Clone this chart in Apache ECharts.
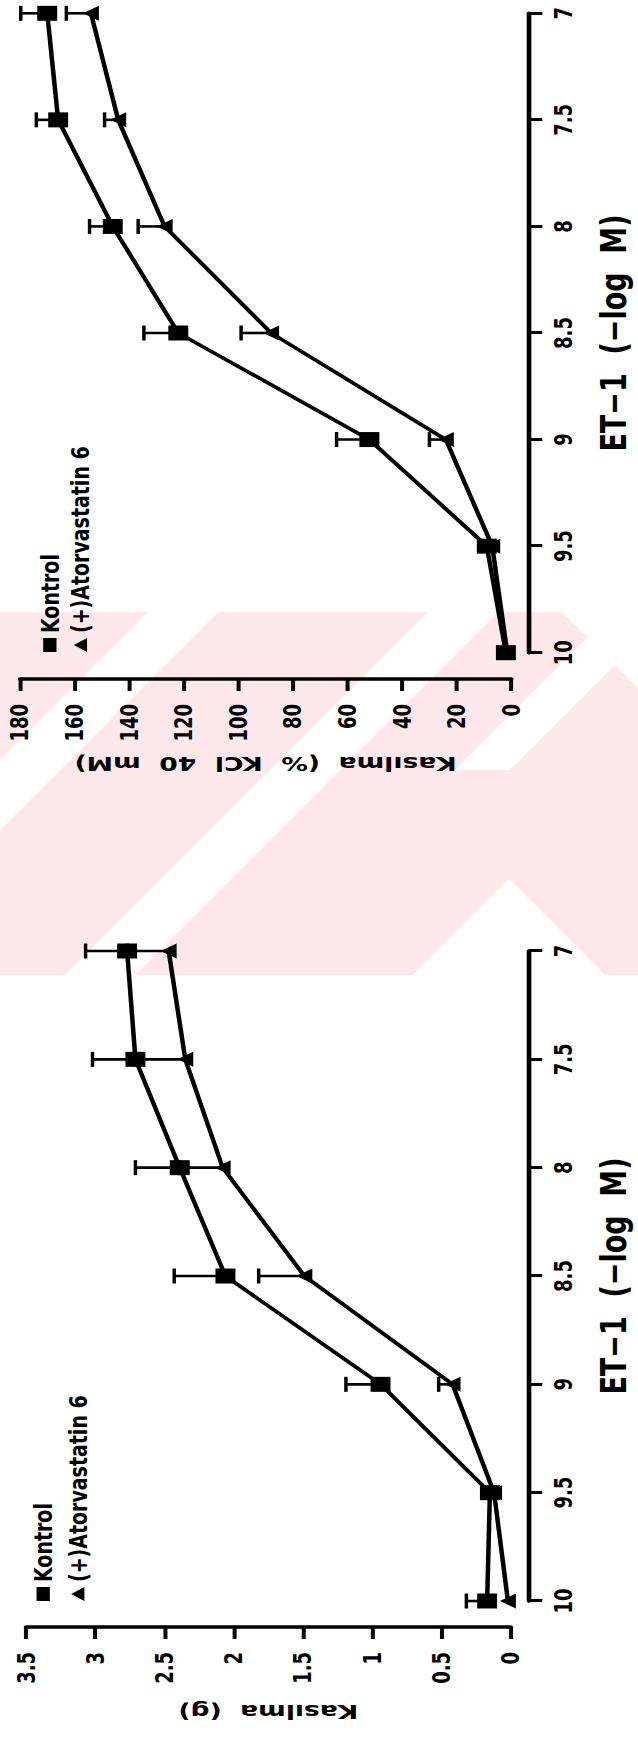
<!DOCTYPE html>
<html>
<head>
<meta charset="utf-8">
<script src="https://cdn.jsdelivr.net/npm/echarts@6/dist/echarts.min.js"></script>
<style>
html,body{margin:0;padding:0;background:#fff;overflow:hidden;}
body{width:638px;height:1739px;position:relative;}
#c{position:absolute;left:0;top:0;width:1739px;height:480px;transform-origin:0 0;
   transform:matrix(0,-1,1.3292,0,0,1739);}
#c svg text{white-space:pre;}
</style>
</head>
<body>
<div id="c"></div>
<script>
// ET-1 concentrations (-log M)
const dose = [10, 9.5, 9, 8.5, 8, 7.5, 7];
// Left panel: contraction in grams
const kontrolG    = [0.17, 0.15, 0.94, 2.06, 2.39, 2.71, 2.77];
const kontrolGErr = [0.15, 0, 0.25, 0.37, 0.32, 0.31, 0.30];
const atorG       = [0.02, 0.12, 0.42, 1.49, 2.08, 2.35, 2.47];
const atorGErr    = [0, 0, 0.10, 0.33, 0.31, 0.36, 0.30];
// Right panel: contraction as % of KCl 40 mM
const kontrolK    = [2, 9, 52, 122, 146, 166, 170];
const kontrolKErr = [0, 0, 12, 12.6, 8.5, 8, 9.7];
const atorK       = [1.5, 7, 24, 88, 127, 144, 154];
const atorKErr    = [0, 0, 6, 11, 9.7, 5, 9];
// Labels
const seriesNames = ['Kontrol', '(+)Atorvastatin 6'];
const NB = '\u00a0';
const xTitle = 'ET\u22121' + NB + NB + '(\u2212log' + NB + NB + 'M)';
const yTitleG = 'Kas\u0131lma' + NB + NB + '(g)';
const yTitleK = 'Kas\u0131lma' + NB + NB + '(%' + NB + NB + 'KCl' + NB + NB + '40' + NB + NB + 'mM)';

const FONT = "'DejaVu Sans', sans-serif";
const pairs = (xs, ys) => xs.map((x, i) => [x, ys[i]]);
const triples = (xs, ys, es) => xs.map((x, i) => [x, ys[i], es[i]]);

// faint scanned watermark (page coordinates of the upright photo)
const K = 1.3292;
const toC = p => [1739 - p[1], p[0] / K];
const wmPink = [[0, 612], [638, 612], [638, 975], [0, 975]];
const wmWhite = [
  [[148, 612], [218, 612], [-145, 975], [-215, 975]],
  [[428, 612], [498, 612], [135, 975], [65, 975]],
  [[613, 612], [668, 612], [510, 770], [455, 770]],
  [[509, 879], [388, 1000], [630, 1000]],
  [[562, 612], [632, 612], [720, 700], [650, 700]]
];

function errRender(params, api) {
  const x = api.value(0), y = api.value(1), e = api.value(2);
  if (!e) return null;
  const p0 = api.coord([x, y]);
  const p1 = api.coord([x, y + e]);
  const hw = 7.5;
  return {type: 'group', children: [
    {type: 'line', shape: {x1: p0[0], y1: p0[1], x2: p1[0], y2: p1[1]}, style: {stroke: '#000', lineWidth: 2.6}},
    {type: 'line', shape: {x1: p1[0] - hw, y1: p1[1], x2: p1[0] + hw, y2: p1[1]}, style: {stroke: '#000', lineWidth: 2.6}}
  ]};
}

function xAxisCfg(gi, offset) {
  return {
    gridIndex: gi, type: 'value', min: 7, max: 10, interval: 0.5, inverse: true,
    position: 'bottom', offset: offset,
    axisLine: {show: true, onZero: false, lineStyle: {color: '#000', width: 3.5}},
    axisTick: {show: true, length: 10, lineStyle: {color: '#000', width: 3}},
    axisLabel: {color: '#000', fontFamily: FONT, fontWeight: 'bold', fontSize: 18, margin: 17},
    splitLine: {show: false},
    name: xTitle, nameLocation: 'middle', nameGap: 50,
    nameTextStyle: {color: '#000', fontFamily: FONT, fontWeight: 'bold', fontSize: 27}
  };
}
function yAxisCfg(gi, max, interval, offset, title) {
  return {
    gridIndex: gi, type: 'value', min: 0, max: max, interval: interval,
    position: 'left', offset: offset,
    axisLine: {show: true, onZero: false, lineStyle: {color: '#000', width: 3.5}},
    axisTick: {show: true, length: 12, lineStyle: {color: '#000', width: 3}},
    axisLabel: {color: '#000', fontFamily: FONT, fontWeight: 'bold', fontSize: 18, margin: 25},
    splitLine: {show: false},
    name: title, nameLocation: 'middle', nameGap: 75, nameRotate: 90,
    nameTextStyle: {color: '#000', fontFamily: FONT, fontWeight: 'bold', fontSize: 20}
  };
}
function lineSeries(name, gi, ys, symbol, size) {
  return {
    type: 'line', name: name, xAxisIndex: gi, yAxisIndex: gi,
    data: pairs(dose, ys), symbol: symbol, symbolSize: size, showSymbol: true,
    lineStyle: {color: '#000', width: 3.4}, itemStyle: {color: '#000'},
    z: 3, animation: false
  };
}
function errSeries(name, gi, ys, es) {
  return {
    type: 'custom', name: name, xAxisIndex: gi, yAxisIndex: gi,
    data: triples(dose, ys, es), renderItem: errRender, z: 2, animation: false
  };
}
function legendCfg(left, top, gap) {
  return {
    orient: 'vertical', left: left, top: top, itemGap: gap,
    itemWidth: 14, itemHeight: 10, padding: 0,
    textStyle: {color: '#000', fontFamily: FONT, fontWeight: 'bold', fontSize: 19},
    data: [
      {name: seriesNames[0], icon: 'rect', itemStyle: {color: '#000'}},
      {name: seriesNames[1], icon: 'triangle', itemStyle: {color: '#000'}}
    ],
    selectedMode: false
  };
}

const wmElems = [{type: 'polygon', shape: {points: wmPink.map(toC)}, style: {fill: '#fde8ec'}, z: -20, silent: true}]
  .concat(wmWhite.map(pts => ({type: 'polygon', shape: {points: pts.map(toC)}, style: {fill: '#ffffff'}, z: -19, silent: true})));

const chart = echarts.init(document.getElementById('c'), null, {renderer: 'svg'});
chart.setOption({
  backgroundColor: '#fff',
  animation: false,
  graphic: {elements: wmElems},
  grid: [
    {left: 138, right: 951, top: 19.6, bottom: 91.3},
    {left: 1086.3, right: 13.3, top: 15, bottom: 94.6}
  ],
  xAxis: [xAxisCfg(0, 13.8), xAxisCfg(1, 13.3)],
  yAxis: [yAxisCfg(0, 3.5, 0.5, 26, yTitleG), yAxisCfg(1, 180, 20, 26.3, yTitleK)],
  legend: [legendCfg(138, 23, 7), legendCfg(1087, 28, 4)],
  series: [
    errSeries(seriesNames[0], 0, kontrolG, kontrolGErr),
    errSeries(seriesNames[1], 0, atorG, atorGErr),
    lineSeries(seriesNames[0], 0, kontrolG, 'rect', 15),
    lineSeries(seriesNames[1], 0, atorG, 'triangle', [15, 12]),
    errSeries(seriesNames[0], 1, kontrolK, kontrolKErr),
    errSeries(seriesNames[1], 1, atorK, atorKErr),
    lineSeries(seriesNames[0], 1, kontrolK, 'rect', 15),
    lineSeries(seriesNames[1], 1, atorK, 'triangle', [15, 12])
  ]
});
</script>
</body>
</html>
